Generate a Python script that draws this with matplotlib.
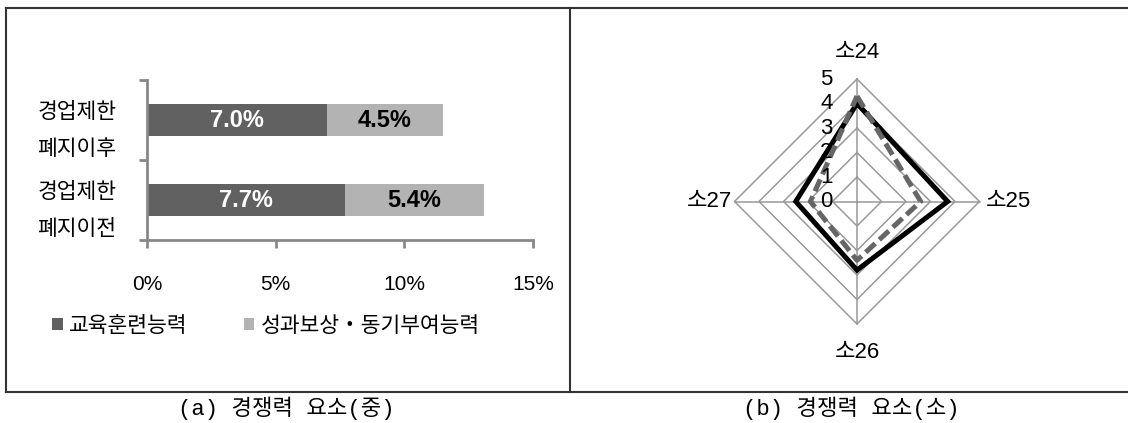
import numpy as np
import matplotlib
matplotlib.use("Agg")
import matplotlib.pyplot as plt
from matplotlib.lines import Line2D

plt.rcParams['font.family'] = ['Liberation Sans', 'Noto Sans CJK KR', 'DejaVu Sans']

# (a) stacked bars
categories = ['경업제한\n폐지이전', '경업제한\n폐지이후']
edu_train = [7.7, 7.0]
reward_motiv = [5.4, 4.5]
series_names = ['교육훈련능력', '성과보상・동기부여능력']
x_ticks = [0, 5, 10, 15]
x_tick_labels = ['0%', '5%', '10%', '15%']

# (b) radar
radar_axes = ['소24', '소25', '소26', '소27']
radar_solid = [4.0, 3.7, 2.8, 2.5]
radar_dashed = [4.3, 2.6, 2.4, 1.9]
radar_rings = [0, 1, 2, 3, 4, 5]

captions = ['(a) 경쟁력 요소(중)', '(b) 경쟁력 요소(소)']

W, H = 1128, 423
fig = plt.figure(figsize=(W / 100, H / 100), dpi=100)


def fx(px):
    return px / W


def fy(py):
    return 1 - py / H


# panel borders
border_kw = dict(color='#333333', lw=1.5, transform=fig.transFigure)
fig.add_artist(Line2D([fx(6), fx(1128)], [fy(8.5), fy(8.5)], **border_kw))
fig.add_artist(Line2D([fx(6), fx(1128)], [fy(392), fy(392)], **border_kw))
fig.add_artist(Line2D([fx(6), fx(6)], [fy(8.5), fy(392)], **border_kw))
fig.add_artist(Line2D([fx(570), fx(570)], [fy(8.5), fy(392)], **border_kw))

# ---- bar chart ----
ax = fig.add_axes([fx(147), fy(240), fx(533) - fx(147), fy(80) - fy(240)])
y = np.arange(len(categories))
dark, light = '#616161', '#b3b3b3'
ax.barh(y, edu_train, height=0.4, color=dark, label=series_names[0])
ax.barh(y, reward_motiv, left=edu_train, height=0.4, color=light, label=series_names[1])
for i in range(len(categories)):
    ax.text(edu_train[i] / 2, y[i], f'{edu_train[i]:.1f}%', ha='center', va='center',
            color='white', fontsize=17, fontweight='bold')
    ax.text(edu_train[i] + reward_motiv[i] / 2, y[i], f'{reward_motiv[i]:.1f}%',
            ha='center', va='center', color='black', fontsize=17, fontweight='bold')

ax.set_xlim(0, 15)
ax.set_ylim(-0.5, len(categories) - 0.5)
ax.set_xticks(x_ticks)
ax.set_xticklabels(x_tick_labels, fontsize=15)
ax.set_yticks(np.arange(-0.5, len(categories)))
ax.set_yticklabels([])
ax.set_yticks(y, minor=True)
ax.set_yticklabels(categories, minor=True, fontsize=15.5, linespacing=2.0)
ax.tick_params(axis='y', which='minor', length=0, pad=22)
ax.tick_params(axis='y', which='major', length=6, width=2, color='#888888')
ax.tick_params(axis='x', length=6, width=2, color='#888888', pad=19)
for s in ['top', 'right']:
    ax.spines[s].set_visible(False)
for s in ['left', 'bottom']:
    ax.spines[s].set_color('#888888')
    ax.spines[s].set_linewidth(2)

ax.legend(ncol=2, frameon=False, loc='center', bbox_to_anchor=(fx(266), fy(326)),
          bbox_transform=fig.transFigure, fontsize=15.5, handlelength=0.5,
          handleheight=0.5, handletextpad=0.3, columnspacing=2.6, borderaxespad=0)

# ---- radar chart ----
cx, cy, unit = 857, 201.5, 24.5
half = 7
rax = fig.add_axes([fx(cx - half * unit), fy(cy + half * unit), 2 * half * unit / W, 2 * half * unit / H])
rax.set_xlim(-half, half)
rax.set_ylim(-half, half)
rax.axis('off')

theta = np.arange(len(radar_axes)) * 2 * np.pi / len(radar_axes)
grid_c = '#999999'
for r in radar_rings[1:]:
    t = np.append(theta, theta[0])
    rax.plot(r * np.sin(t), r * np.cos(t), color=grid_c, lw=1.1, zorder=1)
for t in theta:
    rax.plot([0, radar_rings[-1] * np.sin(t)], [0, radar_rings[-1] * np.cos(t)], color=grid_c, lw=1.1, zorder=1)


def closed(vals):
    v = np.append(vals, vals[0])
    t = np.append(theta, theta[0])
    return v * np.sin(t), v * np.cos(t)


xs, ys = closed(radar_solid)
rax.plot(xs, ys, color='black', lw=3.6, solid_joinstyle='miter', zorder=3)
xs, ys = closed(radar_dashed)
rax.plot(xs, ys, color='#666666', lw=3.6, linestyle=(0, (2.6, 1.1)), zorder=4)

for r in radar_rings:
    rax.text(-1.0, r, str(r), ha='right', va='center', fontsize=16, zorder=5)

R = radar_rings[-1]
rax.text(0, R + 0.65, radar_axes[0], ha='center', va='bottom', fontsize=16)
rax.text(R + 0.25, 0, radar_axes[1], ha='left', va='center', fontsize=16)
rax.text(0, -R - 0.72, radar_axes[2], ha='center', va='top', fontsize=16)
rax.text(-R - 0.1, 0, radar_axes[3], ha='right', va='center', fontsize=16)

# captions
cap_font = ['Liberation Mono', 'Noto Sans CJK KR']
fig.text(fx(286), fy(408), captions[0], ha='center', va='center', fontsize=16, family=cap_font)
fig.text(fx(851), fy(408), captions[1], ha='center', va='center', fontsize=16, family=cap_font)

fig.savefig('out.png', dpi=100)
